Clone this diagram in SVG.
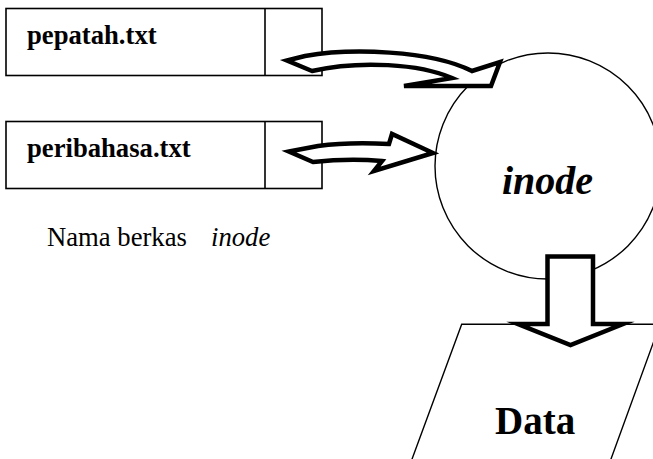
<svg xmlns="http://www.w3.org/2000/svg" width="653" height="459" viewBox="0 0 653 459">
<style>
.box{fill:#fff;stroke:#000;stroke-width:1.6}
.thin{fill:#fff;stroke:#000;stroke-width:1.4}
.blk{fill:#fff;stroke:#000;stroke-width:4.5;stroke-linejoin:miter;stroke-miterlimit:12}
text{font-family:'Liberation Serif','Times New Roman',Tinos,'DejaVu Serif',serif;fill:#000}
.bold{font-weight:bold}
.it{font-style:italic}
</style>
<rect width="653" height="459" fill="#fff"/>
<g id="inode">
<circle class="thin" cx="548" cy="166" r="113"/>
<text class="bold it" x="502" y="194" font-size="40" font-family="Liberation Serif, serif">inode</text>
</g>
<g id="data">
<polygon class="thin" points="461.7,324.3 660,324.3 607,470 408,470"/>
<text class="bold" x="495" y="434" font-size="39" font-family="Liberation Serif, serif">Data</text>
</g>
<g id="pepatah">
<rect class="box" x="6" y="8.5" width="316" height="67"/>
<line class="box" x1="265" y1="8.5" x2="265" y2="75.5"/>
<text class="bold" x="27" y="44" font-size="26.67" font-family="Liberation Serif, serif">pepatah.txt</text>
</g>
<g id="peribahasa">
<rect class="box" x="6" y="121.5" width="316" height="67"/>
<line class="box" x1="265" y1="121.5" x2="265" y2="188.5"/>
<text class="bold" x="27" y="157" font-size="26.67" font-family="Liberation Serif, serif">peribahasa.txt</text>
</g>
<g id="label">
<text x="47" y="246" font-size="26.67" font-family="Liberation Serif, serif">Nama berkas</text>
<text class="it" x="211" y="246" font-size="26.67" font-family="Liberation Serif, serif">inode</text>
</g>
<g id="connectors">
<path class="blk" d="M287,60.5 L305,56 C350,48 430,50 472,71 L500,62 L491,86 L404,86 L452,78 C420,64 360,60 312,71 Z"/>
<path class="blk" d="M289,151.5 L318,146 C340,143 370,143 389,144 L392,134 L433,153 L374,171 L382,161 C360,159 340,159 313,162 Z"/>
<path class="blk" d="M547.5,256.5 L593,256.5 L593,324 L623,324 L570.5,345 L518,324 L547.5,324 Z"/>
</g>
</svg>
